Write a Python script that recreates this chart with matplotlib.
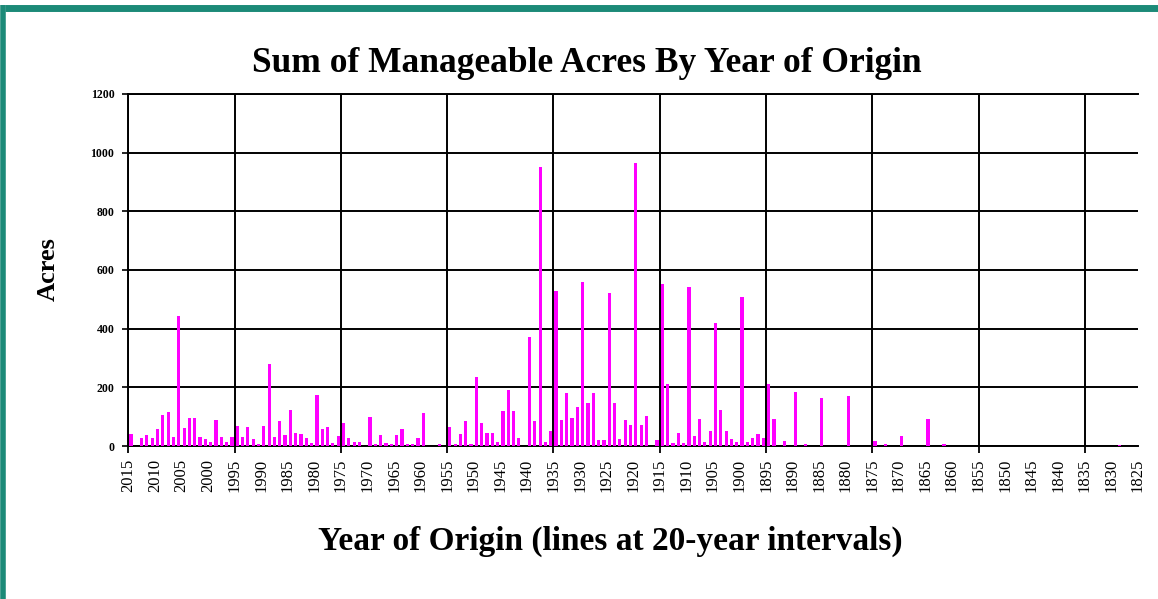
import numpy as np
import matplotlib
matplotlib.use("Agg")
import matplotlib.pyplot as plt
from matplotlib.lines import Line2D

# one category per year, newest on the left
years = np.arange(2015, 1825, -1)

# acres per year of origin (2015 first)
acres = [
    40, 0, 26, 38, 29, 58, 106, 117, 32, 444,
    60, 97, 97, 32, 25, 12, 90, 32, 14, 32,
    67, 32, 64, 25, 6, 67, 280, 32, 85, 39,
    124, 44, 41, 26, 11, 175, 58, 66, 9, 33,
    77, 26, 12, 12, 0, 98, 6, 39, 9, 6,
    39, 59, 6, 6, 26, 113, 0, 0, 6, 0,
    65, 6, 40, 86, 6, 236, 77, 45, 45, 12,
    118, 190, 118, 26, 0, 373, 84, 950, 12, 51,
    530, 90, 181, 96, 133, 560, 147, 181, 19, 19,
    523, 147, 25, 90, 73, 965, 71, 104, 0, 19,
    552, 211, 11, 45, 11, 541, 33, 91, 12, 52,
    418, 122, 51, 25, 14, 509, 12, 27, 40, 27,
    213, 91, 0, 18, 0, 183, 0, 6, 0, 0,
    162, 0, 0, 0, 0, 170, 0, 0, 0, 0,
    17, 0, 6, 0, 0, 35, 0, 0, 0, 0,
    91, 0, 0, 6, 0, 0, 0, 0, 0, 0,
    0, 0, 0, 0, 0, 0, 0, 0, 0, 0,
    0, 0, 0, 0, 0, 0, 0, 0, 0, 0,
    0, 0, 0, 0, 0, 0, 3, 0, 0, 0,
]

label_years = np.arange(2015, 1824, -5)
grid_years = np.arange(2015, 1825, -20)
acre_ticks = np.arange(0, 1201, 200)

title = "Sum of Manageable Acres By Year of Origin"
xlabel = "Year of Origin (lines at 20-year intervals)"
ylabel = "Acres"

serif = ["Liberation Serif", "DejaVu Serif"]

fig = plt.figure(figsize=(11.58, 5.99), dpi=100)
fig.patch.set_facecolor("white")

# teal frame around the slide
teal = "#1c8a78"
fig.add_artist(Line2D([0.004, 1.0], [0.987, 0.987], color=teal, lw=5,
                      transform=fig.transFigure, solid_capstyle="butt"))
fig.add_artist(Line2D([0.003, 0.003], [0.0, 0.991], color=teal, lw=4,
                      transform=fig.transFigure, solid_capstyle="butt"))

ax = fig.add_axes([0.1108, 0.2554, 0.8719, 0.5877])
ax.set_axisbelow(True)
ax.bar(years - 0.5, acres, width=0.6, color="#ff00ff", zorder=3)

ax.set_xlim(2015, 1825)
ax.set_ylim(0, 1200)

# labels every 5 years, lines every 20
ax.xaxis.remove_overlapping_locs = False
ax.set_xticks(label_years)
ax.set_xticklabels([str(y) for y in label_years], rotation=90,
                   fontfamily=serif, fontsize=12)
ax.tick_params(axis="x", which="major", length=0, pad=9)
ax.set_xticks(grid_years, minor=True)
ax.tick_params(axis="x", which="minor", length=5, width=1.3, color="black",
               direction="out")
ax.grid(True, axis="x", which="minor", color="black", lw=1.4)
ax.grid(False, axis="x", which="major")

ax.set_yticks(acre_ticks)
ax.set_yticklabels([str(v) for v in acre_ticks], fontfamily=serif,
                   fontsize=8.5, fontweight="bold")
ax.tick_params(axis="y", length=4, width=1.2, pad=6)
ax.grid(True, axis="y", which="major", color="black", lw=1.4)

for side in ["left", "bottom", "top"]:
    ax.spines[side].set_linewidth(1.4)
ax.spines["right"].set_visible(False)

fig.text(0.507, 0.894, title, ha="center", va="center", fontfamily=serif,
         fontsize=25.5, fontweight="bold")
fig.text(0.042, 0.55, ylabel, ha="center", va="center", rotation=90,
         fontfamily=serif, fontsize=19, fontweight="bold")
fig.text(0.527, 0.097, xlabel, ha="center", va="center", fontfamily=serif,
         fontsize=24, fontweight="bold")

fig.savefig("out.png", dpi=100)
